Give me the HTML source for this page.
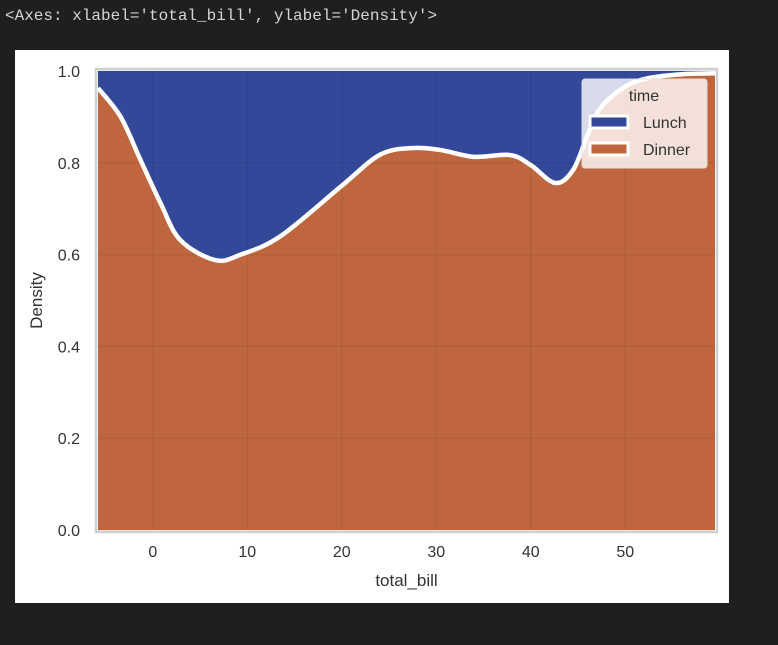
<!DOCTYPE html>
<html><head><meta charset="utf-8"><style>
body{margin:0;background:#1f1f1f;width:778px;height:645px;overflow:hidden;position:relative}
#hdr{position:absolute;left:5px;top:7px;font:16px "Liberation Mono",monospace;color:#d4d4d4;white-space:pre}
#panel{position:absolute;left:15px;top:50px;width:714px;height:553px;background:#fff}
svg{position:absolute;left:0;top:0}
</style></head><body>
<div id="hdr">&lt;Axes: xlabel='total_bill', ylabel='Density'&gt;</div>
<div id="panel"></div>
<svg id="chart" width="778" height="645" font-family="Liberation Sans, sans-serif"></svg>
<script>
const xs = [-5.8,-3.4,-1.3,0.8,2.9,6.6,9.3,13.5,20,24,27.3,30.4,34,37.8,40,42.6,44.5,46,47.4,50,52.6,56,59.5];
const dinnerShare = [0.963,0.90,0.806,0.713,0.632,0.588,0.60,0.64,0.75,0.817,0.832,0.828,0.813,0.817,0.795,0.756,0.785,0.86,0.92,0.966,0.985,0.993,0.995];
const xTicks = [0,10,20,30,40,50];
const yTicks = [0,0.2,0.4,0.6,0.8,1.0];
const legendLabels = ["Lunch","Dinner"];
const L=98,R=715,T=71,B=530;
const xmin=-5.8,xmax=59.5;
const sx=v=>L+(v-xmin)/(xmax-xmin)*(R-L);
const sy=v=>B-v*(B-T);
const svg=document.getElementById('chart');
const NS='http://www.w3.org/2000/svg';
function mk(t,a,p){const e=document.createElementNS(NS,t);for(const k in a)e.setAttribute(k,a[k]);(p||svg).appendChild(e);return e;}
const pts=xs.map((x,i)=>[sx(x),sy(dinnerShare[i])]);
function smooth(p){let d=`M${p[0][0]},${p[0][1]}`;for(let i=0;i<p.length-1;i++){const p0=p[i-1]||p[i],p1=p[i],p2=p[i+1],p3=p[i+2]||p2;
d+=` C${p1[0]+(p2[0]-p0[0])/6},${p1[1]+(p2[1]-p0[1])/6} ${p2[0]-(p3[0]-p1[0])/6},${p2[1]-(p3[1]-p1[1])/6} ${p2[0]},${p2[1]}`;}return d;}
const curve=smooth(pts);
const frame=mk('rect',{x:96,y:69,width:621,height:463,fill:'none',stroke:'#d0d0d0','stroke-width':2.5});

const lunch=mk('rect',{x:L,y:T,width:R-L,height:B-T,fill:'#34489a'});

const din=mk('path',{d:curve+` L${R},${B} L${L},${B} Z`,fill:'#c0663e'});

xTicks.forEach(t=>{const g=mk('line',{x1:sx(t),x2:sx(t),y1:T,y2:B,stroke:'rgba(0,0,0,0.07)','stroke-width':1.2});

const tx=mk('text',{x:sx(t),y:557,'text-anchor':'middle','font-size':16,fill:'#333'});tx.textContent=t;
});
yTicks.forEach(t=>{const g=mk('line',{x1:L,x2:R,y1:sy(t),y2:sy(t),stroke:'rgba(0,0,0,0.07)','stroke-width':1.2});

const tx=mk('text',{x:80,y:sy(t)+6,'text-anchor':'end','font-size':16,fill:'#333'});tx.textContent=t.toFixed(1);
});
const line=mk('path',{d:curve,fill:'none',stroke:'#fff','stroke-width':4.5});

const xl=mk('text',{x:(L+R)/2,y:586,'text-anchor':'middle','font-size':17,fill:'#333'});xl.textContent='total_bill';

const yl=mk('text',{x:42,y:(T+B)/2,'text-anchor':'middle','font-size':17,fill:'#333',transform:`rotate(-90 42 ${(T+B)/2})`});yl.textContent='Density';

const lg=mk('g',{});
mk('rect',{x:582,y:79,width:125,height:89,rx:3,fill:'rgba(255,255,255,0.8)',stroke:'#ddd'},lg);
const lt=mk('text',{x:644,y:101,'text-anchor':'middle','font-size':16,fill:'#333'},lg);lt.textContent='time';

const cols=['#34489a','#c0663e'];
legendLabels.forEach((n,i)=>{const y=123+i*27;
const sw=mk('rect',{x:590,y:y-7,width:38,height:12,fill:cols[i],stroke:'#fff','stroke-width':3},lg);

const t=mk('text',{x:643,y:y+5,'font-size':16,fill:'#333'},lg);t.textContent=n;
});
</script>
</body></html>
